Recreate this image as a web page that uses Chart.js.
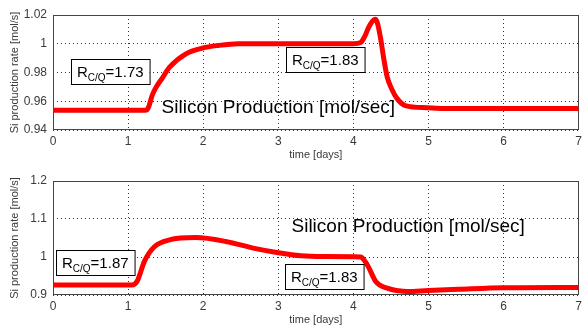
<!DOCTYPE html>
<html>
<head>
<meta charset="utf-8">
<script src="https://cdn.jsdelivr.net/npm/chart.js@4.4.1/dist/chart.umd.min.js"></script>
<style>
html, body { margin: 0; padding: 0; background: #fff; }
#wrap { position: relative; width: 586px; height: 329px; }
canvas { position: absolute; left: 0; }
</style>
</head>
<body>
<div id="wrap">
  <canvas id="topChart" width="586" height="164" style="top:0"></canvas>
  <canvas id="bottomChart" width="586" height="165" style="top:164px"></canvas>
</div>
<script>
// top panel: time [days] vs Si production rate
var topTime = [0, 1.2, 1.25, 1.28, 1.32, 1.37, 1.46, 1.55, 1.77, 1.99, 2.2, 2.47, 3.0, 3.5, 4.0, 4.1, 4.15, 4.2, 4.25, 4.29, 4.32, 4.36, 4.41, 4.45, 4.52, 4.58, 4.69, 4.98, 5.2, 6.0, 7.0];
var topRate = [0.9537, 0.9537, 0.954, 0.957, 0.964, 0.9695, 0.9765, 0.9835, 0.993, 0.997, 0.9988, 1.0, 1.0, 1.0, 1.0, 1.001, 1.005, 1.011, 1.0155, 1.017, 1.0145, 1.0045, 0.988, 0.977, 0.9675, 0.962, 0.957, 0.9555, 0.955, 0.955, 0.955];

// bottom panel
var botTime = [0, 1.05, 1.12, 1.22, 1.35, 1.55, 1.9, 2.3, 2.7, 3.0, 3.3, 3.6, 4.1, 4.15, 4.2, 4.3, 4.45, 4.6, 4.72, 5.0, 5.4, 6.0, 7.0];
var botRate = [0.926, 0.926, 0.936, 0.99, 1.027, 1.045, 1.051, 1.041, 1.022, 1.011, 1.003, 1.001, 1.0, 0.99, 0.974, 0.935, 0.918, 0.911, 0.909, 0.912, 0.915, 0.919, 0.920];

var xTicks = [0, 1, 2, 3, 4, 5, 6, 7];
var topTicks = [0.94, 0.96, 0.98, 1, 1.02];
var botTicks = [0.9, 1, 1.1, 1.2];

// labels placed in data units
var topNotes = [
  { x: 0.76, y: 0.9806, text: '1.73' },
  { x: 3.62, y: 0.989, text: '1.83' }
];
var topCaption = { x: 3.0, y: 0.9553 };
var botNotes = [
  { x: 0.56, y: 0.9868, text: '1.87' },
  { x: 3.61, y: 0.9482, text: '1.83' }
];
var botCaption = { x: 4.73, y: 1.079 };

var fontFam = '"Liberation Sans", Arial, Helvetica, sans-serif';
var axisGrey = '#3a3a3a';

function toPoints(xs, ys) {
  return xs.map(function (x, i) { return { x: x, y: ys[i] }; });
}

var framePlugin = {
  id: 'frame',
  beforeDatasetsDraw: function (chart) {
    var ctx = chart.ctx, a = chart.chartArea;
    ctx.save();
    ctx.strokeStyle = '#444';
    ctx.lineWidth = 1;
    ctx.strokeRect(Math.round(a.left) + 0.5, Math.round(a.top) + 0.5,
      Math.round(a.right - a.left) - 1, Math.round(a.bottom - a.top) - 1);
    ctx.restore();
  }
};

function notesPlugin(notes, caption) {
  return {
    id: 'notes',
    afterDraw: function (chart) {
      var ctx = chart.ctx, xs = chart.scales.x, ys = chart.scales.y;
      ctx.save();
      notes.forEach(function (n) {
        var cx = xs.getPixelForValue(n.x), cy = ys.getPixelForValue(n.y);
        ctx.font = '15px ' + fontFam;
        var wR = ctx.measureText('R').width;
        var wV = ctx.measureText('=' + n.text).width;
        ctx.font = '10px ' + fontFam;
        var wS = ctx.measureText('C/Q').width;
        var w = wR + wS + wV + 12, h = 25;
        var l = Math.round(cx - w / 2), t = Math.round(cy - h / 2);
        ctx.fillStyle = '#fff';
        ctx.fillRect(l, t, w, h);
        ctx.strokeStyle = '#000';
        ctx.lineWidth = 1;
        ctx.strokeRect(l + 0.5, t + 0.5, w, h);
        ctx.fillStyle = '#000';
        ctx.textBaseline = 'alphabetic';
        ctx.textAlign = 'left';
        var base = t + 18;
        ctx.font = '15px ' + fontFam;
        ctx.fillText('R', l + 6, base);
        ctx.font = '10px ' + fontFam;
        ctx.fillText('C/Q', l + 6 + wR, base + 4);
        ctx.font = '15px ' + fontFam;
        ctx.fillText('=' + n.text, l + 6 + wR + wS, base);
      });
      ctx.font = '19px ' + fontFam;
      ctx.fillStyle = '#000';
      ctx.textAlign = 'center';
      ctx.textBaseline = 'middle';
      ctx.fillText('Silicon Production [mol/sec]', xs.getPixelForValue(caption.x), ys.getPixelForValue(caption.y));
      ctx.restore();
    }
  };
}

function makeChart(id, xs, ys, yTicks, notes, caption, pad) {
  return new Chart(document.getElementById(id).getContext('2d'), {
    type: 'line',
    data: {
      datasets: [{
        data: toPoints(xs, ys),
        borderColor: '#ff0000',
        borderWidth: 5,
        pointRadius: 0,
        cubicInterpolationMode: 'monotone',
        fill: false
      }]
    },
    options: {
      responsive: false,
      animation: false,
      layout: { padding: pad },
      plugins: { legend: { display: false }, tooltip: { enabled: false } },
      scales: {
        x: {
          type: 'linear',
          min: xTicks[0],
          max: xTicks[xTicks.length - 1],
          afterBuildTicks: function (s) { s.ticks = xTicks.map(function (v) { return { value: v }; }); },
          afterFit: function (s) { s.height = 32; },
          grid: { color: 'rgba(0,0,0,0.8)', lineWidth: 1, drawTicks: false },
          border: { display: false, dash: [1, 3] },
          ticks: { color: axisGrey, padding: 4, maxRotation: 0, font: { family: fontFam, size: 12 } },
          title: { display: true, text: 'time [days]', color: axisGrey, padding: { top: 0, bottom: 0 }, font: { family: fontFam, size: 11 } }
        },
        y: {
          type: 'linear',
          min: yTicks[0],
          max: yTicks[yTicks.length - 1],
          afterBuildTicks: function (s) { s.ticks = yTicks.map(function (v) { return { value: v }; }); },
          afterFit: function (s) { s.width = 53; },
          grid: { color: 'rgba(0,0,0,0.8)', lineWidth: 1, drawTicks: false },
          border: { display: false, dash: [1, 3] },
          ticks: {
            color: axisGrey, padding: 6, font: { family: fontFam, size: 12 },
            callback: function (v) { return String(Number(v.toFixed(2))); }
          },
          title: { display: true, text: 'Si production rate [mol/s]', color: axisGrey, padding: { top: 8, bottom: 0 }, font: { family: fontFam, size: 11 } }
        }
      }
    },
    plugins: [framePlugin, notesPlugin(notes, caption)]
  });
}

makeChart('topChart', topTime, topRate, topTicks, topNotes, topCaption, { top: 15, right: 3, left: 0, bottom: 2 });
makeChart('bottomChart', botTime, botRate, botTicks, botNotes, botCaption, { top: 17, right: 3, left: 0, bottom: 2 });
</script>
</body>
</html>
